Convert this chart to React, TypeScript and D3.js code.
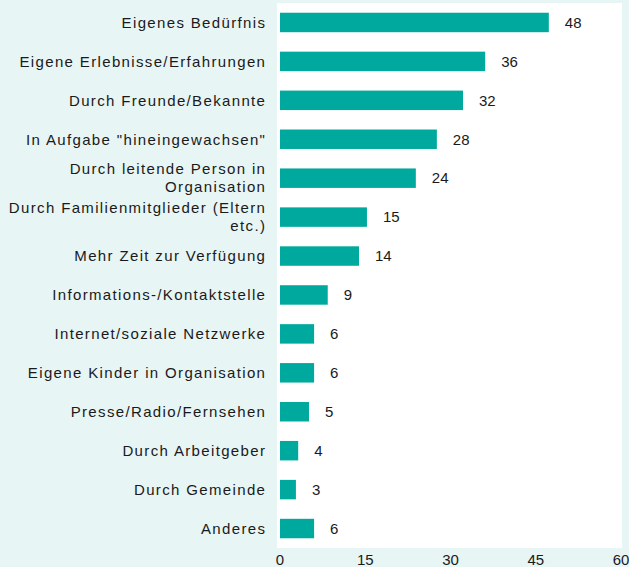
import React from "react";
import * as d3 from "d3";

const categories: string[][] = [
  ["Eigenes Bedürfnis"],
  ["Eigene Erlebnisse/Erfahrungen"],
  ["Durch Freunde/Bekannte"],
  ['In Aufgabe "hineingewachsen"'],
  ["Durch leitende Person in", "Organisation"],
  ["Durch Familienmitglieder (Eltern", "etc.)"],
  ["Mehr Zeit zur Verfügung"],
  ["Informations-/Kontaktstelle"],
  ["Internet/soziale Netzwerke"],
  ["Eigene Kinder in Organisation"],
  ["Presse/Radio/Fernsehen"],
  ["Durch Arbeitgeber"],
  ["Durch Gemeinde"],
  ["Anderes"],
];
const values = [47.3, 36.1, 32.2, 27.6, 23.9, 15.3, 13.9, 8.4, 6.0, 6.0, 5.1, 3.2, 2.8, 6.0];
const valueLabels = ["48", "36", "32", "28", "24", "15", "14", "9", "6", "6", "5", "4", "3", "6"];
const ticks = [0, 15, 30, 45, 60];

const W = 629;
const H = 567;
const FONT = "'Liberation Sans', Arial, Helvetica, sans-serif";

export default function App() {
  const x = d3.scaleLinear().domain([0, 60]).range([280, 621]);
  const y = d3
    .scaleBand<number>()
    .domain(d3.range(categories.length))
    .range([3, 548])
    .paddingInner(0.5)
    .paddingOuter(0.25);
  const lineH = 18;
  return (
    <svg
      width={W}
      height={H}
      style={{ position: "absolute", left: 0, top: 0 }}
      fontFamily={FONT}
    >
      <rect x={0} y={0} width={W} height={H} fill="#e8f5f5" />
      <rect x={277} y={3} width={345} height={545} fill="#ffffff" />
      {values.map((v, i) => {
        const yc = (y(i) as number) + y.bandwidth() / 2;
        const lines = categories[i];
        return (
          <g key={i}>
            <rect
              x={x(0)}
              y={y(i)}
              width={x(v) - x(0)}
              height={y.bandwidth()}
              fill="#00a99d"
            />
            <text
              x={x(v) + 16}
              y={yc}
              dy="0.35em"
              fontSize={15}
              fill="#1a1a1a"
            >
              {valueLabels[i]}
            </text>
            <text
              x={266.3}
              y={yc - ((lines.length - 1) * lineH) / 2}
              textAnchor="end"
              fontSize={15}
              fill="#1a1a1a"
              letterSpacing={1.35}
            >
              {lines.map((l, j) => (
                <tspan key={j} x={266.3} dy={j === 0 ? "0.35em" : lineH}>
                  {l}
                </tspan>
              ))}
            </text>
          </g>
        );
      })}
      {ticks.map((t) => (
        <text
          key={t}
          x={x(t)}
          y={560}
          dy="0.35em"
          textAnchor="middle"
          fontSize={15}
          fill="#1a1a1a"
        >
          {t}
        </text>
      ))}
    </svg>
  );
}
